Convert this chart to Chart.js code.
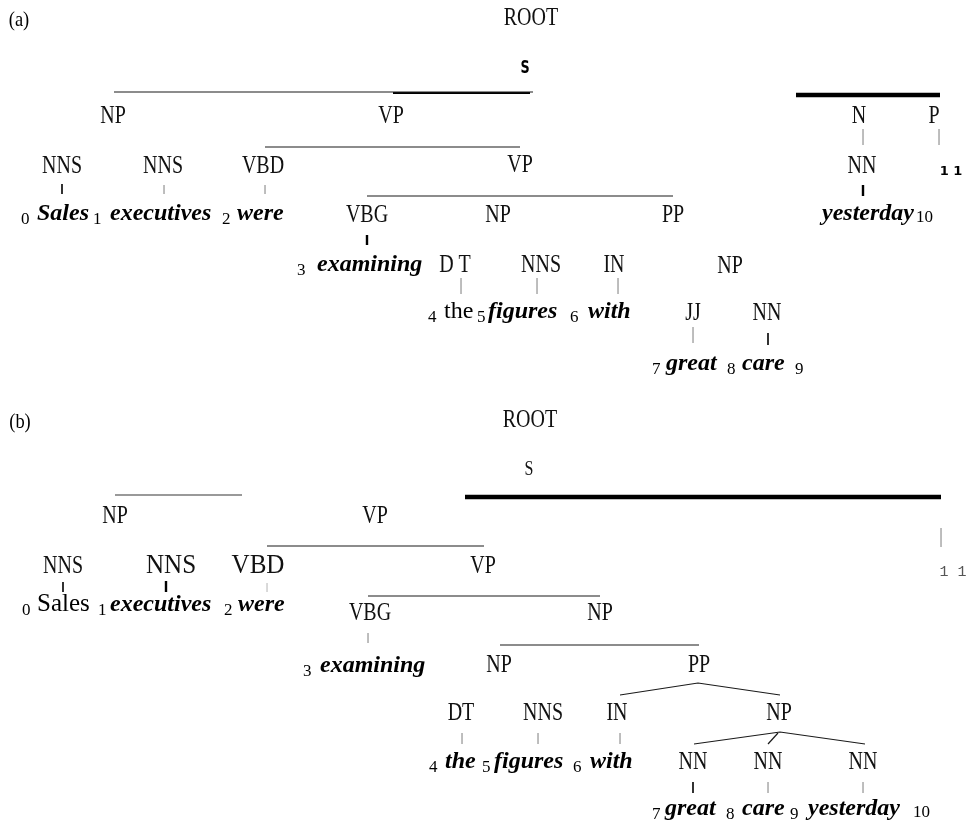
<!DOCTYPE html>
<html>
<head>
<meta charset="utf-8">
<title>Parse trees</title>
<script src="https://cdn.jsdelivr.net/npm/chart.js@4.4.1/dist/chart.umd.min.js"></script>
<style>
  html, body { margin: 0; padding: 0; background: #fff; }
  canvas { display: block; }
</style>
</head>
<body>
<canvas id="myChart-1" width="973" height="825"></canvas>
<script>
// tree (a): node labels, centre x and baseline y (chart units)
const tagsA = ["(a)", "ROOT", "S", "NP", "VP", "N", "P", "NNS", "NNS", "VBD", "VP", "NN", "1 1", "VBG", "NP", "PP", "D T", "NNS", "IN", "NP", "JJ", "NN"];
const tagsAx = [19, 531, 525, 113, 391, 859, 934, 62, 163, 263, 520, 862, 951, 367, 498, 673, 455, 541, 614, 730, 693, 767];
const tagsAy = [26, 25, 73, 123, 123, 123, 123, 173, 173, 173, 172, 173, 175, 222, 222, 222, 272, 272, 272, 273, 320, 320];
const tagsAKind = ["label", "tag", "sansBold", "tag", "tag", "tag", "tag", "tag", "tag", "tag", "tag", "tag", "sansSmall", "tag", "tag", "tag", "tag", "tag", "tag", "tag", "tag", "tag"];

// tree (a): words and token indexes, left x and baseline y
const wordsA = ["0", "Sales", "1", "executives", "2", "were", "yesterday", "10", "3", "examining", "4", "the", "5", "figures", "6", "with", "7", "great", "8", "care", "9"];
const wordsAx = [21, 37, 93, 110, 222, 237, 822, 916, 297, 317, 428, 444, 477, 488, 570, 588, 652, 666, 727, 742, 795];
const wordsAy = [224, 220, 224, 220, 224, 220, 220, 222, 275, 271, 322, 318, 322, 318, 322, 318, 374, 370, 374, 370, 374];
const wordsAKind = ["idx", "it", "idx", "it", "idx", "it", "it", "idx", "idx", "it", "idx", "up", "idx", "it", "idx", "it", "idx", "it", "idx", "it", "idx"];

// tree (b)
const tagsB = ["(b)", "ROOT", "S", "NP", "VP", "NNS", "NNS", "VBD", "VP", "1 1", "VBG", "NP", "NP", "PP", "DT", "NNS", "IN", "NP", "NN", "NN", "NN"];
const tagsBx = [20, 530, 529, 115, 375, 63, 171, 258, 483, 953, 370, 600, 499, 699, 461, 543, 617, 779, 693, 768, 863];
const tagsBy = [428, 427, 475, 523, 523, 573, 573, 573, 573, 576, 620, 620, 672, 672, 720, 720, 720, 720, 769, 769, 769];
const tagsBKind = ["label", "tag", "serifS", "tag", "tag", "tag", "tagBig", "tagBig", "tag", "mono", "tag", "tag", "tag", "tag", "tag", "tag", "tag", "tag", "tag", "tag", "tag"];

const wordsB = ["0", "Sales", "1", "executives", "2", "were", "3", "examining", "4", "the", "5", "figures", "6", "with", "7", "great", "8", "care", "9", "yesterday", "10"];
const wordsBx = [22, 37, 98, 110, 224, 238, 303, 320, 429, 445, 482, 494, 573, 590, 652, 665, 726, 742, 790, 808, 913];
const wordsBy = [615, 611, 615, 611, 615, 611, 676, 672, 772, 768, 772, 768, 772, 768, 819, 815, 819, 815, 819, 815, 817];
const wordsBKind = ["idx", "upBig", "idx", "it", "idx", "it", "idx", "it", "idx", "it", "idx", "it", "idx", "it", "idx", "it", "idx", "it", "idx", "it", "idx"];

// branches: lists of [x, y] points
const branchesA = [
  [[114, 92], [533, 92]],
  [[393, 93], [530, 93]],
  [[796, 95], [940, 95]],
  [[265, 147], [520, 147]],
  [[367, 196], [673, 196]],
  [[62, 184], [62, 194]],
  [[164, 185], [164, 194]],
  [[265, 185], [265, 194]],
  [[863, 129], [863, 145]],
  [[939, 129], [939, 145]],
  [[863, 185], [863, 196]],
  [[367, 235], [367, 245]],
  [[461, 278], [461, 294]],
  [[537, 278], [537, 294]],
  [[618, 278], [618, 294]],
  [[693, 327], [693, 343]],
  [[768, 333], [768, 345]],
];
const branchesAKind = ["thin", "mid", "thick", "thin", "thin", "tickDark", "tick", "tick", "tick", "tick", "tickBold", "tickBold", "tick", "tick", "tick", "tick", "tickDark"];

const branchesB = [
  [[115, 495], [242, 495]],
  [[465, 497], [941, 497]],
  [[267, 546], [484, 546]],
  [[941, 528], [941, 547]],
  [[63, 582], [63, 592]],
  [[166, 581], [166, 592]],
  [[267, 583], [267, 592]],
  [[368, 596], [600, 596]],
  [[368, 633], [368, 643]],
  [[500, 645], [699, 645]],
  [[620, 695], [698, 683], [780, 695]],
  [[694, 744], [780, 732], [865, 744]],
  [[768, 744], [778, 733]],
  [[462, 733], [462, 744]],
  [[538, 733], [538, 744]],
  [[620, 733], [620, 744]],
  [[693, 782], [693, 793]],
  [[768, 782], [768, 793]],
  [[863, 782], [863, 793]],
];
const branchesBKind = ["grey", "thick", "thin", "tick", "tickDark", "tickBold", "tickLight", "thin", "tick", "thin", "thin", "thin", "thin", "tick", "tick", "tick", "tickDark", "tick", "tick"];

const lineStyles = {
  thin: { width: 1.2, color: "#1a1a1a" },
  mid: { width: 1.8, color: "#000" },
  thick: { width: 4.5, color: "#000" },
  grey: { width: 1.4, color: "#777" },
  tick: { width: 1, color: "#b4b4b4" },
  tickLight: { width: 1, color: "#d4d4d4" },
  tickDark: { width: 1.6, color: "#000" },
  tickBold: { width: 2.4, color: "#000" },
};

const textStyles = {
  label: { font: '21px "Liberation Serif"', squeeze: 0.88, align: "center", color: "#000" },
  tag: { font: '25px "Liberation Serif"', squeeze: 0.8, align: "center", color: "#111" },
  tagBig: { font: '27px "Liberation Serif"', squeeze: 0.93, align: "center", color: "#111" },
  sansBold: { font: 'bold 17px "DejaVu Sans"', squeeze: 0.75, align: "center", color: "#000" },
  sansSmall: { font: 'bold 13px "DejaVu Sans"', squeeze: 1, align: "center", color: "#000" },
  serifS: { font: '20px "Liberation Serif"', squeeze: 0.8, align: "center", color: "#111" },
  mono: { font: '15px "Liberation Mono"', squeeze: 1, align: "center", color: "#555" },
  it: { font: 'italic bold 24px "Liberation Serif"', squeeze: 1, align: "left", color: "#000" },
  up: { font: '24px "Liberation Serif"', squeeze: 1, align: "left", color: "#000" },
  upBig: { font: '25px "Liberation Serif"', squeeze: 1, align: "left", color: "#000" },
  idx: { font: '17px "Liberation Serif"', squeeze: 1, align: "left", color: "#000" },
};

function makeDatasets(branches, kinds) {
  return branches.map((pts, i) => ({
    data: pts.map((p) => ({ x: p[0], y: p[1] })),
    showLine: true,
    borderColor: lineStyles[kinds[i]].color,
    borderWidth: lineStyles[kinds[i]].width,
    pointRadius: 0,
    pointHoverRadius: 0,
    tension: 0,
    fill: false,
    clip: false,
  }));
}

const textGroups = [
  [tagsA, tagsAx, tagsAy, tagsAKind],
  [wordsA, wordsAx, wordsAy, wordsAKind],
  [tagsB, tagsBx, tagsBy, tagsBKind],
  [wordsB, wordsBx, wordsBy, wordsBKind],
];

// draws node labels and words at data positions
const treeText = {
  id: "treeText",
  afterDatasetsDraw(chart) {
    const ctx = chart.ctx;
    const xs = chart.scales.x;
    const ys = chart.scales.y;
    textGroups.forEach(([texts, gx, gy, kinds]) => {
      texts.forEach((t, i) => {
        const st = textStyles[kinds[i]];
        ctx.save();
        ctx.translate(xs.getPixelForValue(gx[i]), ys.getPixelForValue(gy[i]));
        ctx.scale(st.squeeze, 1);
        ctx.font = st.font;
        ctx.fillStyle = st.color;
        ctx.textAlign = st.align;
        ctx.textBaseline = "alphabetic";
        ctx.fillText(t, 0, 0);
        ctx.restore();
      });
    });
  },
};

const ctx = document.getElementById("myChart-1");

if (ctx) {
  const myChart = new Chart(ctx, {
    type: "scatter",
    data: {
      datasets: makeDatasets(branchesA, branchesAKind).concat(makeDatasets(branchesB, branchesBKind)),
    },
    options: {
      responsive: false,
      animation: false,
      devicePixelRatio: 1,
      layout: { padding: 0 },
      plugins: {
        legend: { display: false },
        tooltip: { enabled: false },
      },
      scales: {
        x: { type: "linear", min: 0, max: 973, display: false },
        y: { type: "linear", min: 0, max: 825, reverse: true, display: false },
      },
    },
    plugins: [treeText],
  });
}
</script>
</body>
</html>
